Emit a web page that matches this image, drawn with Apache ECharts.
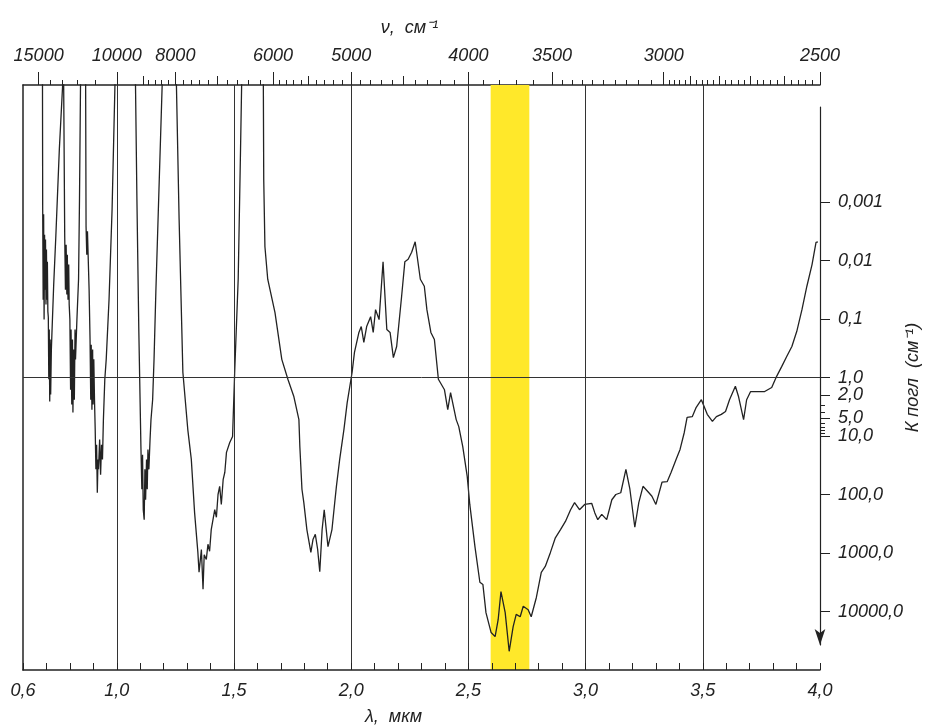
<!DOCTYPE html>
<html>
<head>
<meta charset="utf-8">
<script src="https://cdn.jsdelivr.net/npm/echarts@6/dist/echarts.min.js"></script>
<style>
  html, body { margin: 0; padding: 0; background: #fff; }
  #chart { width: 927px; height: 727px; }
</style>
</head>
<body>
<div id="chart"></div>
<script>
// wavelength, mkm  /  log10 of absorption coefficient (cm^-1); -5.3 = off the top of the scale
var band1Lambda = [0.683, 0.684, 0.686, 0.688, 0.690, 0.692, 0.694, 0.696, 0.698, 0.700, 0.702, 0.704, 0.706, 0.708, 0.710, 0.712, 0.714, 0.716, 0.718, 0.721, 0.724, 0.731, 0.740, 0.755, 0.773];
var band1LogK = [-5.3, -2.87, -1.33, -2.79, -0.99, -2.44, -1.50, -2.36, -1.25, -2.19, -1.33, -1.98, -1.13, -1.03, 0.03, -0.82, 0.41, -0.65, 0.29, -0.48, -0.82, -1.59, -2.41, -3.90, -5.3];

var band2Lambda = [0.776, 0.778, 0.781, 0.784, 0.787, 0.789, 0.792, 0.795, 0.797, 0.800, 0.803, 0.805, 0.808, 0.811, 0.813, 0.816, 0.819, 0.822, 0.824, 0.830, 0.837, 0.841, 0.846];
var band2LogK = [-5.3, -2.41, -1.50, -2.27, -1.42, -2.10, -1.33, -1.93, -1.25, -0.99, 0.21, -0.82, 0.46, -0.65, 0.60, -0.48, 0.38, -0.82, -0.31, -0.99, -1.68, -3.04, -5.3];

var band3Lambda = [0.867, 0.869, 0.872, 0.875, 0.878, 0.882, 0.886, 0.889, 0.891, 0.894, 0.897, 0.899, 0.902, 0.905, 0.908, 0.911, 0.914, 0.917, 0.920, 0.922, 0.927, 0.931, 0.935, 0.939, 0.943, 0.949, 0.955, 0.967, 0.980, 0.994];
var band3LogK = [-5.3, -2.58, -2.10, -2.50, -2.07, -1.50, -0.65, 0.38, -0.56, 0.55, -0.48, 0.46, -0.31, 0.38, 0.89, 1.57, 1.15, 1.97, 1.40, 1.57, 1.06, 1.66, 1.15, 1.40, 0.72, 0.03, -0.31, -1.33, -2.87, -5.3];

var band4Lambda = [1.079, 1.086, 1.094, 1.103, 1.107, 1.110, 1.113, 1.117, 1.120, 1.123, 1.127, 1.130, 1.133, 1.137, 1.142, 1.146, 1.153, 1.159, 1.167, 1.180, 1.196];
var band4LogK = [-5.3, -3.04, -0.82, 1.18, 1.91, 1.32, 2.26, 2.43, 1.57, 2.09, 1.40, 1.91, 1.23, 1.57, 1.06, 0.72, 0.38, -0.31, -1.50, -3.21, -5.3];

var band5Lambda = [1.253, 1.266, 1.282, 1.303, 1.318, 1.332, 1.346, 1.351, 1.361, 1.368, 1.373, 1.382, 1.389, 1.396, 1.403, 1.418, 1.425, 1.432, 1.439, 1.446, 1.454, 1.461, 1.468, 1.482, 1.494, 1.503, 1.518, 1.528, 1.534];
var band5LogK = [-5.3, -2.70, -0.09, 0.89, 1.40, 2.31, 2.99, 3.33, 2.94, 3.62, 3.03, 3.11, 2.85, 2.97, 2.60, 2.26, 2.39, 2.00, 1.86, 2.17, 1.74, 1.62, 1.28, 1.11, 1.01, -0.09, -1.68, -3.90, -5.3];

var band6Lambda = [1.625, 1.627, 1.632, 1.644, 1.675, 1.704, 1.730, 1.755, 1.777, 1.781, 1.790, 1.798, 1.811, 1.828, 1.837, 1.847, 1.857, 1.866, 1.876, 1.885,
    1.901, 1.918, 1.928, 1.937, 1.951, 1.969, 1.983, 2.004, 2.014, 2.033, 2.043, 2.054, 2.066, 2.083, 2.094, 2.104, 2.119, 2.136, 2.152, 2.166,
    2.180, 2.194, 2.215, 2.229, 2.243, 2.258, 2.273, 2.295, 2.312, 2.323, 2.340, 2.355, 2.372, 2.398, 2.412, 2.424, 2.448, 2.459, 2.476, 2.495,
    2.506, 2.528, 2.549, 2.562, 2.575, 2.597, 2.614, 2.627, 2.639, 2.657, 2.674, 2.691, 2.704, 2.721, 2.734, 2.755, 2.768, 2.790, 2.811, 2.828,
    2.850, 2.871, 2.893, 2.914, 2.936, 2.953, 2.974, 2.996, 3.026, 3.039, 3.052, 3.069, 3.090, 3.112, 3.129, 3.150, 3.172, 3.189, 3.210, 3.227,
    3.245, 3.270, 3.283, 3.300, 3.326, 3.348, 3.365, 3.386, 3.403, 3.421, 3.433, 3.455, 3.472, 3.494, 3.502, 3.519, 3.541, 3.558, 3.579, 3.597,
    3.614, 3.639, 3.652, 3.674, 3.687, 3.704, 3.730, 3.764, 3.794, 3.815, 3.837, 3.858, 3.880, 3.901, 3.923, 3.944, 3.966, 3.983, 3.991];
var band6LogK = [-5.3, -3.38, -2.24, -1.68, -1.11, -0.31, 0.03, 0.32, 0.72, 1.18, 1.91, 2.14, 2.60, 2.99, 2.77, 2.68, 2.94, 3.32, 2.60, 2.26,
    2.89, 2.60, 2.21, 1.86, 1.40, 0.89, 0.43, -0.09, -0.43, -0.77, -0.87, -0.60, -0.87, -1.04, -0.77, -1.16, -0.99, -1.98, -0.82, -0.77,
    -0.34, -0.53, -1.38, -1.98, -2.02, -2.14, -2.32, -1.68, -1.56, -1.16, -0.77, -0.65, 0.03, 0.21, 0.55, 0.26, 0.72, 0.84, 1.18, 1.69,
    2.17, 2.89, 3.50, 3.54, 4.02, 4.36, 4.43, 4.14, 3.66, 4.02, 4.68, 4.26, 4.05, 4.09, 3.91, 3.97, 4.09, 3.76, 3.33, 3.23,
    2.99, 2.74, 2.60, 2.46, 2.26, 2.14, 2.26, 2.17, 2.15, 2.31, 2.43, 2.34, 2.43, 2.09, 2.00, 1.97, 1.57, 1.91, 2.56, 2.14,
    1.86, 1.97, 2.03, 2.17, 1.79, 1.78, 1.62, 1.40, 1.23, 0.94, 0.68, 0.67, 0.51, 0.38, 0.41, 0.63, 0.75, 0.67, 0.63, 0.58,
    0.38, 0.15, 0.32, 0.72, 0.38, 0.24, 0.24, 0.24, 0.17, -0.02, -0.19, -0.36, -0.53, -0.79, -1.16, -1.56, -1.93, -2.31, -2.32];

// axes
var lambdaLabels = [0.6, 1.0, 1.5, 2.0, 2.5, 3.0, 3.5, 4.0];
var lambdaGrid = [1.0, 1.5, 2.0, 2.5, 3.0, 3.5];
var nuMajor = [15000, 10000, 8000, 6000, 5000, 4000, 3500, 3000, 2500];
var nuMid = [9000, 7000, 5500, 4500, 2900, 2800, 2700, 2600];
var nuMinor = [14000, 13000, 12000, 11000, 8800, 8600, 8400, 8200, 7800, 7600, 7400, 7200, 6800, 6600, 6400, 6200,
    5900, 5800, 5700, 5600, 5400, 5300, 5200, 5100, 4900, 4800, 4700, 4600, 4400, 4300, 4200, 4100,
    3900, 3800, 3700, 3600, 3450, 3400, 3350, 3300, 3250, 3200, 3150, 3100, 3050,
    2980, 2960, 2940, 2920, 2880, 2860, 2840, 2820, 2780, 2760, 2740, 2720, 2680, 2660, 2640, 2620, 2580, 2560, 2540, 2520];
var kTicks = [0.001, 0.01, 0.1, 1, 2, 5, 10, 100, 1000, 10000];
var kTickLabels = ['0,001', '0,01', '0,1', '1,0', '2,0', '5,0', '10,0', '100,0', '1000,0', '10000,0'];
var kMinor = [3, 4, 6, 7, 8, 9];
var highlight = [2.595, 2.76];

var curve = [];
[[band1Lambda, band1LogK], [band2Lambda, band2LogK], [band3Lambda, band3LogK],
 [band4Lambda, band4LogK], [band5Lambda, band5LogK], [band6Lambda, band6LogK]].forEach(function (b) {
    for (var i = 0; i < b[0].length; i++) curve.push([b[0][i], b[1][i]]);
});

function nuToLambda(n) { return 10000 / n; }

var font = 'Liberation Sans';
var ink = '#222';
var labelStyle = { fontFamily: font, fontStyle: 'italic', fontSize: 18, color: ink };

var dom = document.getElementById('chart');
var myChart = echarts.init(dom);
var option = {
    animation: false,
    backgroundColor: '#fff',
    grid: [
        { left: 23, right: 107, top: 85, bottom: 57, outerBoundsMode: 'none', containLabel: false },
        { left: 23, right: 107, top: 107, bottom: 82, outerBoundsMode: 'none', containLabel: false }
    ],
    xAxis: [{
        type: 'value', position: 'bottom', min: 0.6, max: 4.0, interval: 0.1, z: 10,
        name: 'λ,  мкм', nameLocation: 'middle', nameGap: 38, nameMoveOverlap: false,
        nameTextStyle: { fontFamily: font, fontStyle: 'italic', fontSize: 18, color: ink, padding: [0, 56, 0, 0] },
        axisLine: { onZero: false, lineStyle: { color: ink, width: 1.5 } },
        axisTick: { inside: true, length: 7, lineStyle: { color: ink } },
        axisLabel: Object.assign({ customValues: lambdaLabels, margin: 12,
            formatter: function (v) { return v.toFixed(1).replace('.', ','); } }, labelStyle),
        splitLine: { show: false }
    }, {
        type: 'value', position: 'top', min: 0.6, max: 4.0,
        name: 'ν,  см⁻¹', nameLocation: 'middle', nameGap: 48, nameMoveOverlap: false,
        nameTextStyle: { fontFamily: font, fontStyle: 'italic', fontSize: 18, color: ink, padding: [0, 24, 0, 0] },
        axisLine: { onZero: false, lineStyle: { color: ink, width: 1.5 } },
        axisTick: { customValues: nuMajor.map(nuToLambda), length: 13, lineStyle: { color: ink } },
        axisLabel: Object.assign({ customValues: nuMajor.map(nuToLambda), margin: 20,
            formatter: function (v) { return String(Math.round(10000 / v)); } }, labelStyle),
        splitLine: { show: false }
    }, {
        type: 'value', position: 'top', min: 0.6, max: 4.0,
        axisLine: { show: false, onZero: false },
        axisTick: { customValues: nuMid.map(nuToLambda), length: 9, lineStyle: { color: ink } },
        axisLabel: { show: false },
        splitLine: { show: false }
    }, {
        type: 'value', position: 'top', min: 0.6, max: 4.0,
        axisLine: { show: false, onZero: false },
        axisTick: { customValues: nuMinor.map(nuToLambda), length: 5, lineStyle: { color: ink } },
        axisLabel: { show: false },
        splitLine: { show: false }
    }, {
        gridIndex: 1, type: 'value', show: false, min: 0, max: 1,
        axisLine: { onZero: false }
    }],
    yAxis: [{
        type: 'value', position: 'left', min: -5, max: 5, inverse: true,
        axisLine: { show: true, onZero: false, lineStyle: { color: ink, width: 1.5 } },
        axisTick: { show: false }, axisLabel: { show: false }, splitLine: { show: false }
    }, {
        type: 'value', position: 'right', min: -5, max: 5, inverse: true,
        name: 'К погл  (см⁻¹)', nameLocation: 'middle', nameGap: 84, nameRotate: 90, nameMoveOverlap: false,
        nameTextStyle: { fontFamily: font, fontStyle: 'italic', fontSize: 18, color: ink },
        axisLine: { show: false, onZero: false },
        axisTick: { show: true, customValues: kTicks.map(Math.log10), length: 10, lineStyle: { color: ink } },
        axisLabel: Object.assign({ customValues: kTicks.map(Math.log10), margin: 18,
            formatter: function (v) {
                for (var i = 0; i < kTicks.length; i++) {
                    if (Math.abs(Math.log10(kTicks[i]) - v) < 1e-6) return kTickLabels[i];
                }
                return '';
            } }, labelStyle),
        splitLine: { show: false }
    }, {
        type: 'value', position: 'right', min: -5, max: 5, inverse: true,
        axisLine: { show: false, onZero: false },
        axisTick: { show: true, customValues: kMinor.map(Math.log10), length: 5, lineStyle: { color: ink } },
        axisLabel: { show: false }, splitLine: { show: false }
    }, {
        gridIndex: 1, type: 'value', position: 'right', min: 0, max: 1,
        axisLine: { show: true, onZero: false, symbol: ['arrow', 'none'], symbolSize: [8, 16], lineStyle: { color: ink, width: 1.2 } },
        axisTick: { show: false }, axisLabel: { show: false }, splitLine: { show: false }
    }],
    series: [{
        name: 'grid', type: 'line', data: [], z: 1, silent: true,
        markLine: {
            silent: true, symbol: 'none', label: { show: false },
            lineStyle: { color: '#333', width: 1, type: 'solid' },
            data: lambdaGrid.map(function (l) { return { xAxis: l }; }).concat([{ yAxis: 0 }])
        }
    }, {
        name: 'band', type: 'line', data: [], z: 2, silent: true,
        markArea: {
            silent: true,
            itemStyle: { color: '#FFE82A', opacity: 1 },
            data: [[{ xAxis: highlight[0] }, { xAxis: highlight[1] }]]
        }
    }, {
        name: 'К погл', type: 'line', data: curve, z: 3,
        xAxisIndex: 0, yAxisIndex: 0,
        showSymbol: false, symbol: 'none', clip: true,
        lineStyle: { color: ink, width: 1.3 }
    }]
};
myChart.setOption(option);
</script>
</body>
</html>
